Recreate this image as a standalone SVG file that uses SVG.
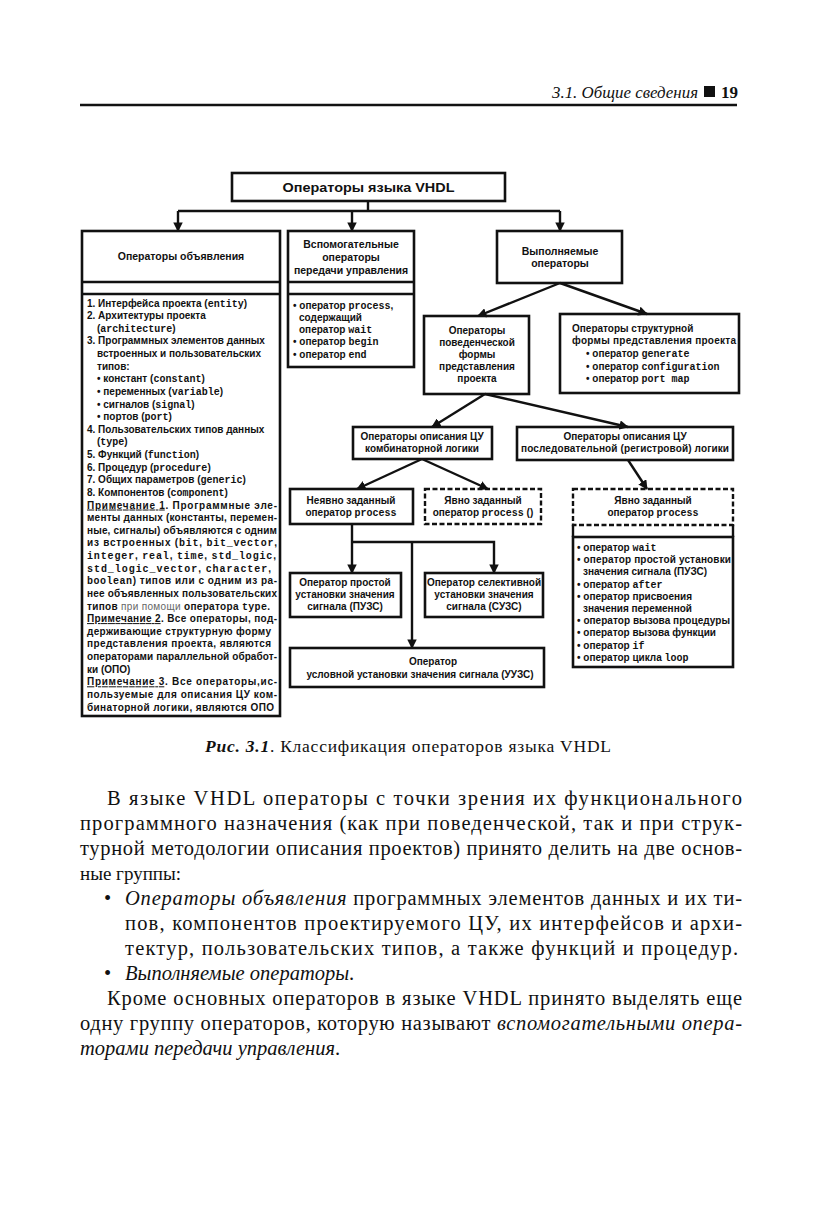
<svg xmlns="http://www.w3.org/2000/svg" width="827" height="1210" viewBox="0 0 827 1210">
<defs>
<marker id="ah" viewBox="0 0 10 10" refX="9" refY="5" markerWidth="9.5" markerHeight="9.5" markerUnits="userSpaceOnUse" orient="auto">
<path d="M0,0 L10,5 L0,10 z" fill="#111"/>
</marker>
<style>
.box{fill:none;stroke:#111;stroke-width:2.6}
.dash{fill:none;stroke:#111;stroke-width:2.4;stroke-dasharray:5 2.5}
.ln{fill:none;stroke:#111;stroke-width:2.4}
.arr{fill:none;stroke:#111;stroke-width:2.4;marker-end:url(#ah)}
.h{font-family:"Liberation Sans",Arial,sans-serif;font-weight:bold;font-size:10.5px;text-anchor:middle;fill:#111}
.c{font-family:"Liberation Sans",Arial,sans-serif;font-weight:bold;font-size:10px;text-anchor:middle;fill:#111}
.l{font-family:"Liberation Sans",Arial,sans-serif;font-weight:bold;font-size:10px;fill:#111}
.m{font-family:"Liberation Mono","Courier New",monospace;font-weight:bold}
.u{text-decoration:underline}
.g{font-weight:normal;fill:#666}
.b{font-family:"Liberation Serif","Times New Roman",serif;font-size:20.5px;fill:#111}
.i{font-style:italic}
</style>
</defs>

<g id="page-header">
<text x="552" y="98" class="b i" style="font-size:17px" textLength="146" lengthAdjust="spacingAndGlyphs">3.1. Общие сведения</text>
<rect x="704" y="86" width="11" height="11" fill="#111"/>
<text x="721" y="98" class="b" style="font-size:17px;font-weight:bold">19</text>
<line x1="80" y1="105" x2="737" y2="105" stroke="#111" stroke-width="2.5"/>
</g>

<g id="connectors">
<path class="ln" d="M368 201 V211 M178 211 H560"/>
<path class="arr" d="M178 211 V231"/>
<path class="arr" d="M352 211 V231"/>
<path class="arr" d="M560 211 V231"/>
<path class="arr" d="M560 283 L478 316"/>
<path class="arr" d="M560 283 L647 314"/>
<path class="arr" d="M485 394 L432 427"/>
<path class="arr" d="M485 394 L628 427"/>
<path class="arr" d="M422 459 L357 489"/>
<path class="arr" d="M422 459 L488 489"/>
<path class="arr" d="M628 460 L647 489"/>
<path class="arr" d="M352 524 V573"/>
<path class="arr" d="M352 542 H494 V573"/>
<path class="arr" d="M412 542 V648"/>
</g>

<g id="n-root">
<rect class="box" x="232" y="173" width="273" height="28"/>
<text class="h" x="368.5" y="192" style="font-size:13.5px" textLength="172" lengthAdjust="spacingAndGlyphs">Операторы языка VHDL</text>
</g>

<g id="n-decl">
<rect class="box" x="82" y="231" width="198" height="485"/>
<line class="ln" x1="82" y1="282" x2="280" y2="282"/>
<line class="ln" x1="82" y1="294" x2="280" y2="294"/>
<text class="h" x="181" y="260">Операторы объявления</text>
<g class="l">
<text x="87" y="306.5">1. Интерфейса проекта (<tspan class="m">entity</tspan>)</text>
<text x="87" y="319.1">2. Архитектуры проекта</text>
<text x="97" y="331.8">(<tspan class="m">architecture</tspan>)</text>
<text x="87" y="344.4">3. Программных элементов данных</text>
<text x="97" y="357">встроенных и пользовательских</text>
<text x="97" y="369.6">типов:</text>
<text x="97" y="382.3">• констант (<tspan class="m">constant</tspan>)</text>
<text x="97" y="394.9">• переменных (<tspan class="m">variable</tspan>)</text>
<text x="97" y="407.5">• сигналов (<tspan class="m">signal</tspan>)</text>
<text x="97" y="420.1">• портов (<tspan class="m">port</tspan>)</text>
<text x="87" y="432.8">4. Пользовательских типов данных</text>
<text x="97" y="445.4">(<tspan class="m">type</tspan>)</text>
<text x="87" y="458">5. Функций (<tspan class="m">function</tspan>)</text>
<text x="87" y="470.6">6. Процедур (<tspan class="m">procedure</tspan>)</text>
<text x="87" y="483.3">7. Общих параметров (<tspan class="m">generic</tspan>)</text>
<text x="87" y="495.9">8. Компонентов (<tspan class="m">component</tspan>)</text>
<text x="87" y="508.5" textLength="190" lengthAdjust="spacing"><tspan class="u">Примечание 1</tspan>. Программные эле-</text>
<text x="87" y="521.1" textLength="190" lengthAdjust="spacing">менты данных (константы, перемен-</text>
<text x="87" y="533.8" textLength="190" lengthAdjust="spacing">ные, сигналы) объявляются с одним</text>
<text x="87" y="546.4" textLength="190" lengthAdjust="spacing">из встроенных (<tspan class="m">bit</tspan>, <tspan class="m">bit_vector</tspan>,</text>
<text x="87" y="559" textLength="189" lengthAdjust="spacing"><tspan class="m">integer</tspan>, <tspan class="m">real</tspan>, <tspan class="m">time</tspan>, <tspan class="m">std_logic</tspan>,</text>
<text x="87" y="571.6" textLength="184" lengthAdjust="spacing"><tspan class="m">std_logic_vector</tspan>, <tspan class="m">character</tspan>,</text>
<text x="87" y="584.3" textLength="190" lengthAdjust="spacing"><tspan class="m">boolean</tspan>) типов или с одним из ра-</text>
<text x="87" y="596.9" textLength="190" lengthAdjust="spacing">нее объявленных пользовательских</text>
<text x="87" y="609.5" textLength="183" lengthAdjust="spacing">типов <tspan class="g">при помощи</tspan> оператора <tspan class="m">type</tspan>.</text>
<text x="87" y="622.1" textLength="190" lengthAdjust="spacing"><tspan class="u">Примечание 2</tspan>. Все операторы, под-</text>
<text x="87" y="634.8" textLength="184" lengthAdjust="spacing">держивающие структурную форму</text>
<text x="87" y="647.4" textLength="184" lengthAdjust="spacing">представления проекта, являются</text>
<text x="87" y="660" textLength="190" lengthAdjust="spacing">операторами параллельной обработ-</text>
<text x="87" y="672.6">ки (ОПО)</text>
<text x="87" y="685.3" textLength="190" lengthAdjust="spacing"><tspan class="u">Примечание 3</tspan>. Все операторы,ис-</text>
<text x="87" y="697.9" textLength="190" lengthAdjust="spacing">пользуемые для описания ЦУ ком-</text>
<text x="87" y="710.5" textLength="187" lengthAdjust="spacing">бинаторной логики, являются ОПО</text>
</g>
</g>

<g id="n-aux">
<rect class="box" x="288" y="231" width="126" height="136"/>
<line class="ln" x1="288" y1="282" x2="414" y2="282"/>
<line class="ln" x1="288" y1="294" x2="414" y2="294"/>
<text class="h" x="351" y="247.5">Вспомогательные</text>
<text class="h" x="351" y="260.5">операторы</text>
<text class="h" x="351" y="273.5">передачи управления</text>
<g class="l">
<text x="293" y="308.5">• оператор <tspan class="m">process</tspan>,</text>
<text x="299" y="320.5">содержащий</text>
<text x="299" y="332.5">оператор <tspan class="m">wait</tspan></text>
<text x="293" y="345">• оператор <tspan class="m">begin</tspan></text>
<text x="293" y="358">• оператор <tspan class="m">end</tspan></text>
</g>
</g>

<g id="n-exec">
<rect class="box" x="497" y="231" width="125" height="52"/>
<text class="h" x="560" y="255">Выполняемые</text>
<text class="h" x="560" y="267">операторы</text>
</g>

<g id="n-behav">
<rect class="box" x="424" y="316" width="105" height="78"/>
<text class="c" x="477" y="333.5">Операторы</text>
<text class="c" x="477" y="345.5">поведенческой</text>
<text class="c" x="477" y="357.5">формы</text>
<text class="c" x="477" y="369.5">представления</text>
<text class="c" x="477" y="381.5">проекта</text>
</g>

<g id="n-struct">
<rect class="box" x="560" y="314" width="179" height="79"/>
<g class="l">
<text x="572" y="331.5">Операторы структурной</text>
<text x="572" y="343.5" textLength="164" lengthAdjust="spacing">формы представления проекта</text>
<text x="586" y="356.5">• оператор <tspan class="m">generate</tspan></text>
<text x="586" y="369.5">• оператор <tspan class="m">configuration</tspan></text>
<text x="586" y="381.5">• оператор <tspan class="m">port map</tspan></text>
</g>
</g>

<g id="n-comb">
<rect class="box" x="353" y="427" width="139" height="32"/>
<text class="c" x="422" y="439.5">Операторы описания ЦУ</text>
<text class="c" x="422" y="452">комбинаторной логики</text>
</g>

<g id="n-seq">
<rect class="box" x="517" y="427" width="216" height="33"/>
<text class="c" x="625" y="439.5">Операторы описания ЦУ</text>
<text class="c" x="625" y="452" textLength="208" lengthAdjust="spacing">последовательной (регистровой) логики</text>
</g>

<g id="n-implicit">
<rect class="box" x="290" y="489" width="123" height="35"/>
<text class="c" x="351" y="503.5">Неявно заданный</text>
<text class="c" x="351" y="515.5">оператор <tspan class="m">process</tspan></text>
</g>

<g id="n-explicit">
<rect class="dash" x="425" y="489" width="116" height="35"/>
<text class="c" x="483" y="503.5">Явно заданный</text>
<text class="c" x="483" y="515.5">оператор <tspan class="m">process</tspan> ()</text>
</g>

<g id="n-explicit-seq">
<rect class="dash" x="573" y="489" width="160" height="36"/>
<line class="ln" x1="573" y1="525" x2="573" y2="537"/>
<line class="ln" x1="733" y1="525" x2="733" y2="537"/>
<rect class="box" x="573" y="537" width="160" height="130"/>
<text class="c" x="653" y="503.5">Явно заданный</text>
<text class="c" x="653" y="515.5">оператор <tspan class="m">process</tspan></text>
<g class="l">
<text x="577" y="551">• оператор <tspan class="m">wait</tspan></text>
<text x="577" y="563.2" textLength="154" lengthAdjust="spacing">• оператор простой установки</text>
<text x="583" y="575.4">значения сигнала (ПУЗС)</text>
<text x="577" y="587.6">• оператор <tspan class="m">after</tspan></text>
<text x="577" y="599.8">• оператор присвоения</text>
<text x="583" y="612">значения переменной</text>
<text x="577" y="624.2" textLength="153" lengthAdjust="spacing">• оператор вызова процедуры</text>
<text x="577" y="636.4">• оператор вызова функции</text>
<text x="577" y="648.6">• оператор <tspan class="m">if</tspan></text>
<text x="577" y="660.8">• оператор цикла <tspan class="m">loop</tspan></text>
</g>
</g>

<g id="n-puzs">
<rect class="box" x="290" y="573" width="111" height="44"/>
<text class="c" x="345" y="585.5">Оператор простой</text>
<text class="c" x="345" y="597.5">установки значения</text>
<text class="c" x="345" y="609.5">сигнала (ПУЗС)</text>
</g>

<g id="n-suzs">
<rect class="box" x="425" y="573" width="118" height="44"/>
<text class="c" x="484" y="585.5">Оператор селективной</text>
<text class="c" x="484" y="597.5">установки значения</text>
<text class="c" x="484" y="609.5">сигнала (СУЗС)</text>
</g>

<g id="n-uuzs">
<rect class="box" x="290" y="648" width="254" height="39"/>
<text class="c" x="433" y="664.5">Оператор</text>
<text class="c" x="420" y="677.5">условной установки значения сигнала (УУЗС)</text>
</g>

<g id="caption">
<text x="408" y="752" class="b" style="font-size:17.5px" text-anchor="middle" textLength="406" lengthAdjust="spacing"><tspan class="i" font-weight="bold">Рис. 3.1</tspan>. Классификация операторов языка VHDL</text>
</g>

<g id="body-text" class="b">
<text x="107" y="805" textLength="635" lengthAdjust="spacing">В языке VHDL операторы с точки зрения их функционального</text>
<text x="80" y="830" textLength="662" lengthAdjust="spacing">программного назначения (как при поведенческой, так и при струк-</text>
<text x="80" y="855" textLength="662" lengthAdjust="spacing">турной методологии описания проектов) принято делить на две основ-</text>
<text x="80" y="880" style="font-size:19px">ные группы:</text>
<text x="104" y="905">•</text>
<text x="125" y="905" textLength="617" lengthAdjust="spacing"><tspan class="i">Операторы объявления</tspan> программных элементов данных и их ти-</text>
<text x="125" y="930" textLength="617" lengthAdjust="spacing">пов, компонентов проектируемого ЦУ, их интерфейсов и архи-</text>
<text x="125" y="955" textLength="613" lengthAdjust="spacing">тектур, пользовательских типов, а также функций и процедур.</text>
<text x="104" y="980">•</text>
<text x="125" y="980"><tspan class="i">Выполняемые операторы</tspan>.</text>
<text x="107" y="1005" textLength="635" lengthAdjust="spacing">Кроме основных операторов в языке VHDL принято выделять еще</text>
<text x="80" y="1030" textLength="662" lengthAdjust="spacing">одну группу операторов, которую называют <tspan class="i">вспомогательными опера-</tspan></text>
<text x="80" y="1055"><tspan class="i">торами передачи управления</tspan>.</text>
</g>
</svg>
